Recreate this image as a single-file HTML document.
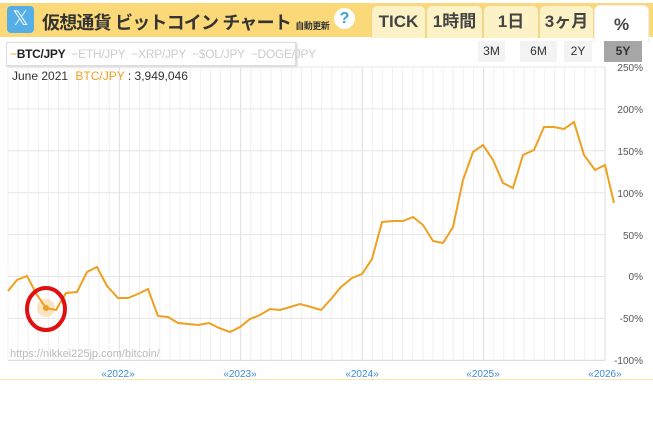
<!DOCTYPE html>
<html><head><meta charset="utf-8"><style>
body{margin:0;width:653px;height:427px;background:#fff;font-family:"Liberation Sans","Noto Sans CJK JP",sans-serif;position:relative;overflow:hidden}
.hdr{position:absolute;left:0;top:3px;width:653px;height:34px;background:#fcd978}
.xi{position:absolute;left:7px;top:6px;width:27px;height:27px;background:#55aee6;border-radius:4px;color:#fff;font-size:20px;text-align:center;line-height:27px}
.ttl{position:absolute;left:42px;top:9px;font-size:18px;letter-spacing:-0.8px;font-weight:bold;color:#333;white-space:nowrap}
.ttl small{font-size:9px;letter-spacing:-0.5px}
.q{position:absolute;left:334px;top:8px;width:21px;height:21px;border-radius:50%;background:#fff;color:#3aa0d8;font-weight:bold;font-size:16px;text-align:center;line-height:21px}
.tab{position:absolute;top:5px;height:32px;background:#fdf1c6;border:1px solid #f0d78a;border-bottom:none;border-radius:6px 6px 0 0;font-size:17px;font-weight:bold;color:#444;text-align:center;line-height:32px}
.btn{position:absolute;top:41px;height:21px;background:#f3f3f3;font-size:12px;color:#333;text-align:center;line-height:21px}
.leg{position:absolute;left:6px;top:42px;width:288px;height:22px;border:1px solid #ddd;box-shadow:1px 1px 2px #ccc;font-size:12px;line-height:22px;color:#ccc;white-space:nowrap;letter-spacing:-0.3px}
</style></head><body>
<div class="hdr"></div>
<div class="xi">𝕏</div>
<div class="ttl">仮想通貨 ビットコイン チャート <small>自動更新</small></div>
<div class="q">?</div>
<div class="tab" style="left:371px;width:53px">TICK</div>
<div class="tab" style="left:426px;width:55px">1時間</div>
<div class="tab" style="left:483px;width:54px">1日</div>
<div class="tab" style="left:539px;width:53px">3ヶ月</div>
<div class="tab" style="left:594px;width:53px;background:#fff;height:36px;border-color:#eee;line-height:38px">%</div>
<div class="leg">&nbsp;<span style="color:#f0a020">−</span><span style="color:#222;font-weight:bold">BTC/JPY</span>&nbsp; −ETH/JPY&nbsp; −XRP/JPY&nbsp; −$OL/JPY&nbsp; −DOGE/JPY</div>
<div class="btn" style="left:478px;width:27px">3M</div>
<div class="btn" style="left:520px;width:37px">6M</div>
<div class="btn" style="left:564px;width:28px">2Y</div>
<div class="btn" style="left:604px;width:38px;background:#a6a6a6;font-weight:bold">5Y</div>
<svg width="653" height="427" style="position:absolute;left:0;top:0" font-family="Liberation Sans,sans-serif">
<g id="g" stroke="#ededed"></g>
<line x1="0" y1="379.5" x2="653" y2="379.5" stroke="#fbe7a8"/>
<line x1="8" y1="360.5" x2="605" y2="360.5" stroke="#ddd"/>
<g font-size="10" fill="#555" text-anchor="end">
<text x="643" y="71">250%</text><text x="643" y="113">200%</text><text x="643" y="155">150%</text><text x="643" y="197">100%</text><text x="643" y="239">50%</text><text x="643" y="280">0%</text><text x="643" y="322">-50%</text><text x="643" y="364">-100%</text>
</g>
<text x="12" y="80" font-size="12" fill="#333">June 2021 <tspan fill="#f0a020" dx="4">BTC/JPY</tspan> : 3,949,046</text>
<text x="10" y="357" font-size="11" fill="#bbb">https://nikkei225jp.com/bitcoin/</text>
<g font-size="10" fill="#3a8ad8" text-anchor="middle">
<text x="118" y="377">«2022»</text><text x="240" y="377">«2023»</text><text x="362" y="377">«2024»</text><text x="483" y="377">«2025»</text><text x="605" y="377">«2026»</text>
</g>
<circle cx="46" cy="308" r="9" fill="#fbd9a8" opacity="0.7"/>
<polyline fill="none" stroke="#f0a020" stroke-width="2" points="8,291 17,280 27,276 37,295 46,308 56,310 66,293 77,292 87,272 97,267 107,286 118,298 128,298 138,294 148,289 158,316 168,317 178,323 188,324 198,325 209,323 219,328 230,332 240,327 250,319 260,315 270,309 280,310 290,307 300,304 311,307 321,310 331,299 341,287 352,278 362,274 372,259 382,222 393,221 403,221 413,217 423,225 433,241 443,243 453,227 463,180 473,152 483,145 493,160 503,183 513,188 523,155 534,150 544,127 554,127 564,129 574,122 584,155 595,170 605,165 614,203"/>
<circle cx="46" cy="308" r="3" fill="#f0a020"/>
<ellipse cx="46" cy="309" rx="19" ry="21" fill="none" stroke="#e01010" stroke-width="4"/>
</svg>
<script>
var g=document.getElementById('g'),s='';
for(var i=0;i<60;i++){var x=8+i*(597/59);var yr=[118,240,362,483,605].some(function(v){return Math.abs(v-x)<5});s+='<line x1="'+x.toFixed(1)+'" y1="67" x2="'+x.toFixed(1)+'" y2="360" stroke="'+(yr?'#dcdcdc':'#f0f0f0')+'"/>';}
for(var j=0;j<8;j++){var y=67+j*41.9;s+='<line x1="8" y1="'+y.toFixed(1)+'" x2="605" y2="'+y.toFixed(1)+'" stroke="#e6e6e6"/>';}
g.innerHTML=s;
</script>
</body></html>
